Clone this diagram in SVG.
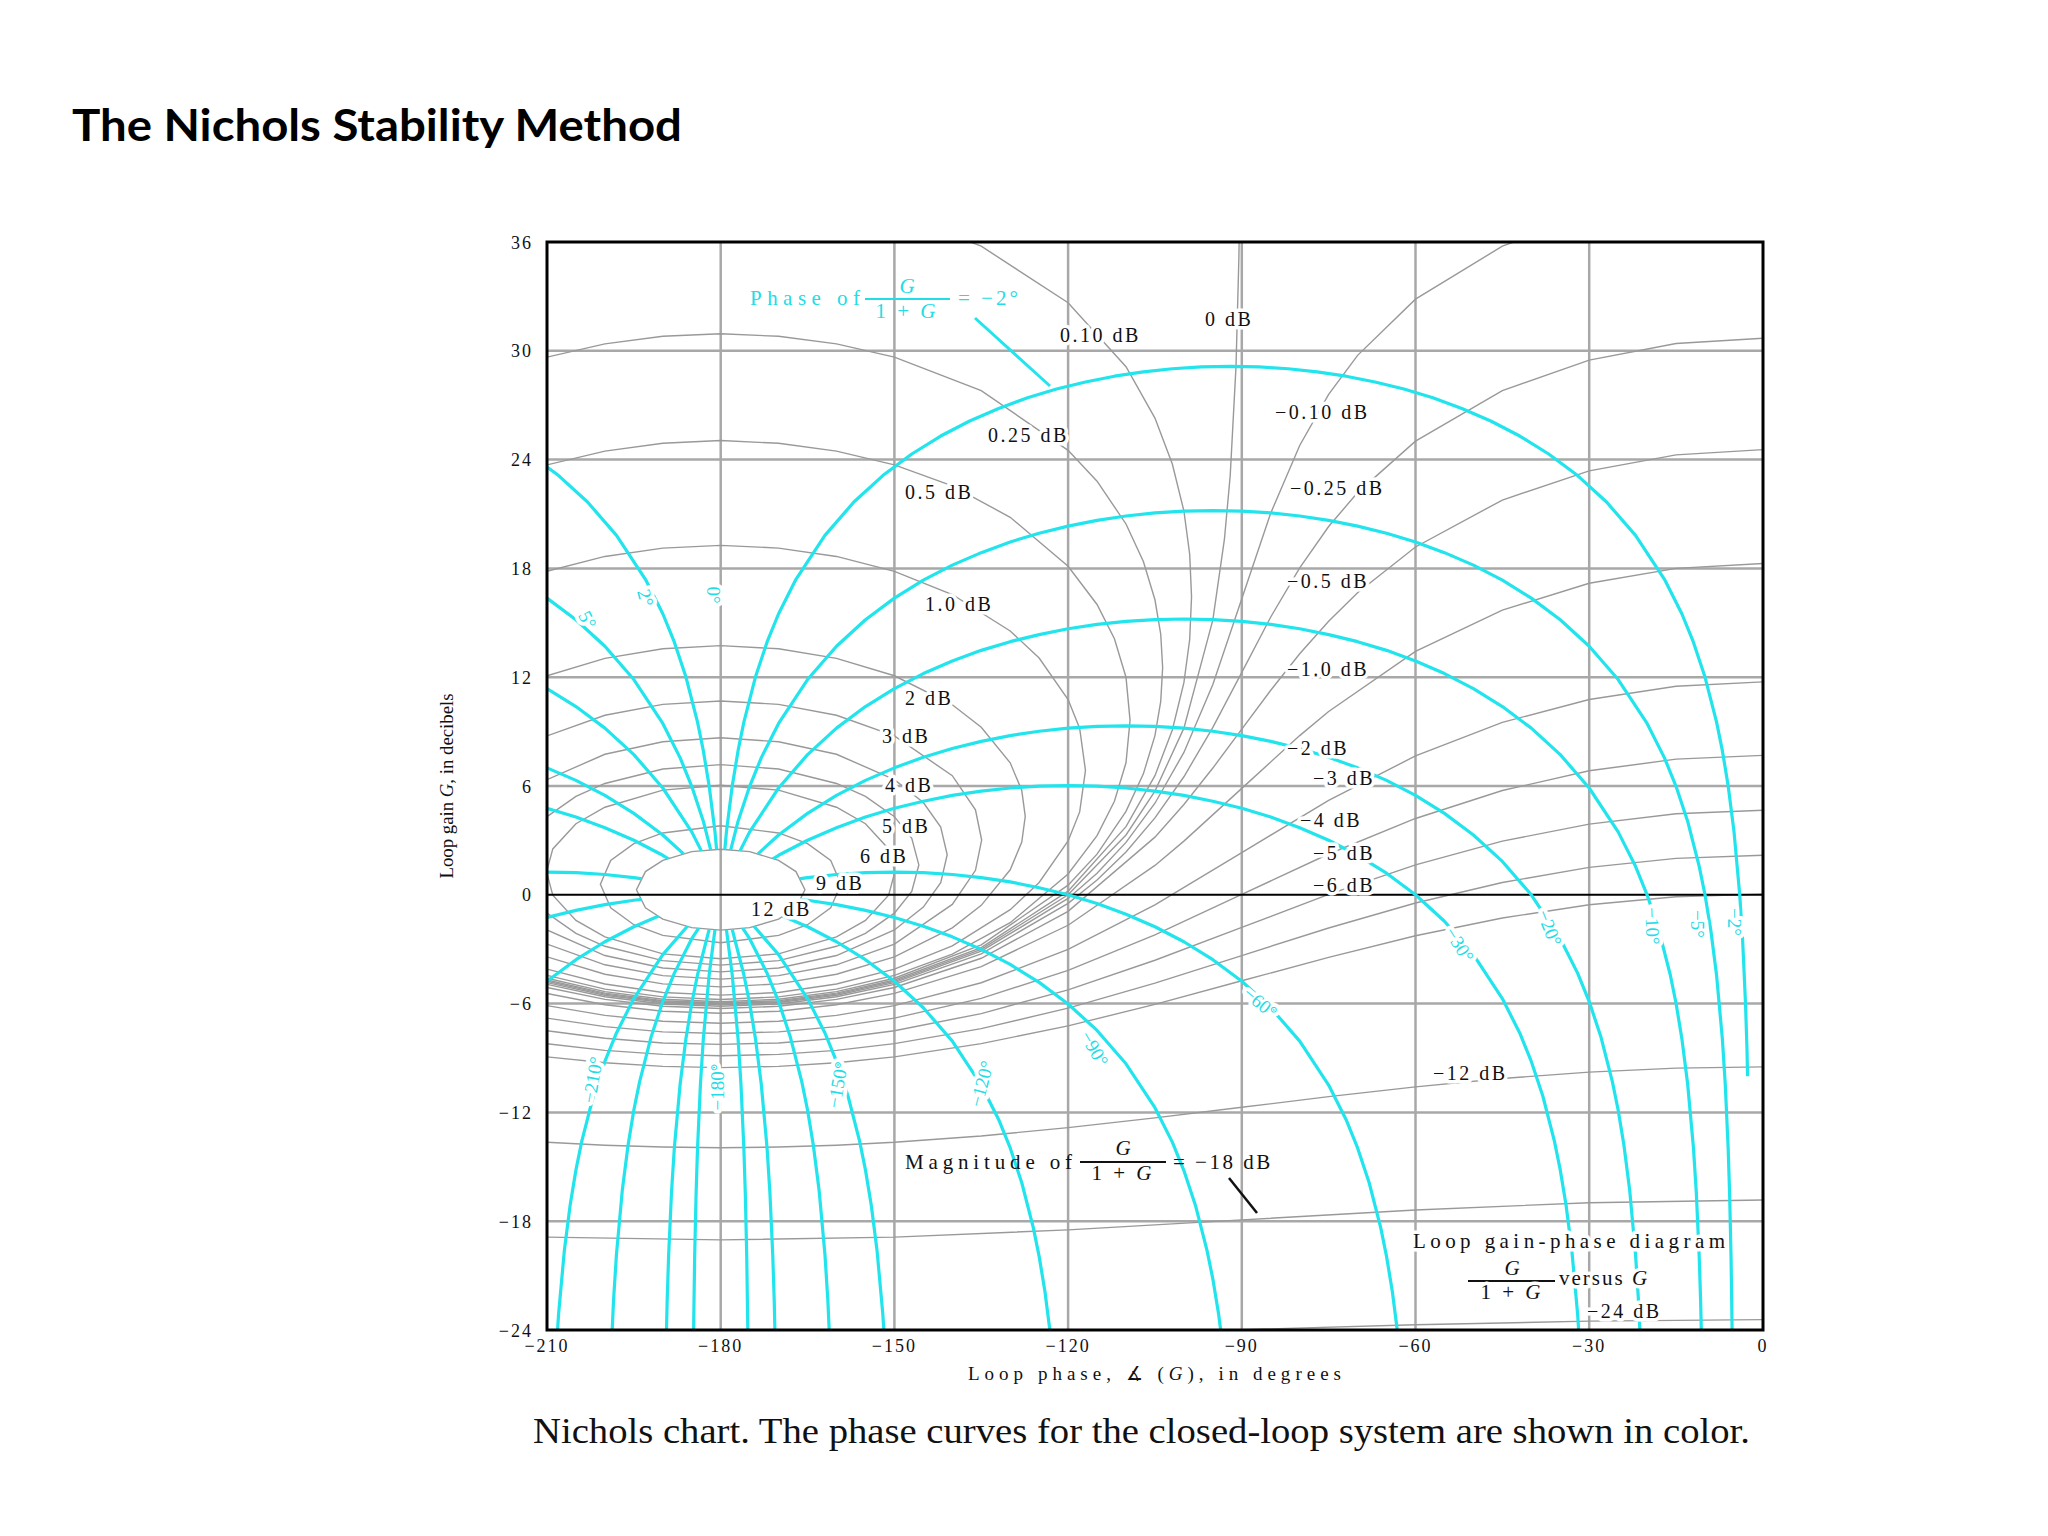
<svg xmlns="http://www.w3.org/2000/svg" xmlns:xlink="http://www.w3.org/1999/xlink" width="2048" height="1536" viewBox="0 0 2048 1536">
<style>
.m{fill:none;stroke:#999;stroke-width:1.4;vector-effect:non-scaling-stroke}
.cy{fill:none;stroke:#22e4ec;stroke-width:3.2;vector-effect:non-scaling-stroke;stroke-linejoin:round}
.grid{stroke:#a8a8a8;stroke-width:2.5}
.t{font-family:"Liberation Serif",serif;font-size:20px;letter-spacing:2.5px;fill:#111}
.tk{font-family:"Liberation Serif",serif;font-size:18px;letter-spacing:2px;fill:#111}
.ct{font-family:"Liberation Serif",serif;font-size:19px;fill:#22dce6;stroke:#fff;stroke-width:8;paint-order:stroke;stroke-linejoin:round}
.lw{stroke:#fff;stroke-width:7;paint-order:stroke;stroke-linejoin:round}
</style>
<defs>
<clipPath id="chart"><rect x="547" y="242" width="1216" height="1088"/></clipPath>
<clipPath id="c178" clipPathUnits="userSpaceOnUse"><rect x="0" y="-10" width="180" height="50"/></clipPath>
<clipPath id="c2" clipPathUnits="userSpaceOnUse"><rect x="-40" y="-30" width="40" height="70"/></clipPath>
<mask id="om" maskUnits="userSpaceOnUse" x="-40" y="-40" width="240" height="90">
<rect x="-40" y="-40" width="240" height="90" fill="#fff"/>
<path fill="#000" d="M0,2.51 L5,2.38 10,1.9 13,1.28 14.55,0.28 13,-0.72 10,-1.34 5,-1.81 0,-1.95 -5,-1.81 -10,-1.34 -13,-0.72 -14.55,0.28 -13,1.28 -10,1.9 -5,2.38 Z"/>
</mask>
<path id="arch" class="cy" d="M0.1,-55.2 L0.2,-49.1 0.3,-45.6 0.5,-41.18 0.75,-37.66 1,-35.16 1.5,-31.64 2,-29.14 3,-25.63 4,-23.13 5,-21.19 6,-19.62 8,-17.13 10,-15.21 12,-13.64 15,-11.74 20,-9.32 25,-7.48 30,-6.02 35,-4.83 40,-3.84 45,-3.01 50,-2.32 55,-1.73 60,-1.25 65,-0.86 70,-0.54 75,-0.3 80,-0.13 85,-0.03 90,0 95,-0.03 100,-0.13 105,-0.3 110,-0.54 115,-0.86 120,-1.25 125,-1.73 130,-2.32 135,-3.01 140,-3.84 145,-4.83 150,-6.02 155,-7.48 160,-9.32 165,-11.74 168,-13.64 170,-15.21 172,-17.13 174,-19.62 175,-21.19 176,-23.13 177,-25.63 178,-29.14 178.5,-31.64 179,-35.16 179.25,-37.66 179.5,-41.18 179.7,-45.6 179.8,-49.1 179.9,-55.2"/>
</defs>
<rect width="2048" height="1536" fill="#fff"/>
<text x="72" y="141" font-family="Lato,'Open Sans',sans-serif" font-weight="bold" font-size="44" textLength="610" lengthAdjust="spacingAndGlyphs" fill="#000">The Nichols Stability Method</text>

<g id="grid">
<g class="grid">
<line x1="720.7" y1="242" x2="720.7" y2="1330"/><line x1="894.4" y1="242" x2="894.4" y2="1330"/><line x1="1068.1" y1="242" x2="1068.1" y2="1330"/><line x1="1241.8" y1="242" x2="1241.8" y2="1330"/><line x1="1415.5" y1="242" x2="1415.5" y2="1330"/><line x1="1589.2" y1="242" x2="1589.2" y2="1330"/>
<line x1="547" y1="350.8" x2="1763" y2="350.8"/><line x1="547" y1="459.6" x2="1763" y2="459.6"/><line x1="547" y1="568.4" x2="1763" y2="568.4"/><line x1="547" y1="677.2" x2="1763" y2="677.2"/><line x1="547" y1="786" x2="1763" y2="786"/><line x1="547" y1="1003.6" x2="1763" y2="1003.6"/><line x1="547" y1="1112.4" x2="1763" y2="1112.4"/><line x1="547" y1="1221.2" x2="1763" y2="1221.2"/>
</g>
</g>

<g id="m-curves" clip-path="url(#chart)">
<g transform="translate(720.7 894.8) scale(5.79 -18.133)">
<path class="m" d="M-30,-4.77 L-20,-5.48 -10,-5.89 0,-6.02 10,-5.89 20,-5.48 30,-4.77 45,-3.01 60,0 70,3.3 75,5.72 80,9.19 85,15.16 87,19.61 88,23.12 89,29.14 89.5,35.16 89.7,39.6"/>
<path class="m" d="M0,38.8 L20,38.3 30,37.6 45,35.77 60,32.65 70,29.12 75,26.29 78,23.76 80,21.17 81,18.78 81.32,16.43 81,14.08 80,11.7 78,9.09 75,6.57 70,3.76 60,0.2 45,-2.91 30,-4.7 20,-5.42 10,-5.84 0,-5.97 -10,-5.84 -20,-5.42 -30,-4.7 -45,-2.91"/>
<path class="m" d="M-45,27.8 L-30,29.65 -20,30.38 -10,30.8 0,30.94 10,30.8 20,30.38 30,29.65 45,27.8 60,24.51 65,22.81 70,20.45 73,18.38 75,16.27 76,14.37 76.33,12.53 76,10.67 75,8.78 73,6.67 70,4.6 65,2.24 60,0.53 45,-2.76 30,-4.6 20,-5.34 10,-5.76 0,-5.9 -10,-5.76 -20,-5.34 -30,-4.6 -45,-2.76"/>
<path class="m" d="M-40,22.55 L-30,23.71 -20,24.47 -10,24.9 0,25.05 10,24.9 20,24.47 30,23.71 40,22.55 50,20.82 60,18.12 65,16.01 68,14.12 70,12 70.7,9.62 70,7.28 68,5.16 65,3.26 60,1.15 50,-1.54 40,-3.27 30,-4.44 20,-5.2 10,-5.63 0,-5.77 -10,-5.63 -20,-5.2 -30,-4.44 -40,-3.27"/>
<path class="m" d="M-40,16.56 L-30,17.84 -20,18.66 -10,19.12 0,19.27 10,19.12 20,18.66 30,17.84 40,16.56 50,14.55 55,13.06 60,10.77 62,9.17 63,6.86 62,4.57 60,2.97 55,0.68 50,-0.82 40,-2.82 30,-4.1 20,-4.92 10,-5.39 0,-5.53 -10,-5.39 -20,-4.92 -30,-4.1 -40,-2.82"/>
<path class="m" d="M0,13.74 L10,13.57 20,13.04 30,12.08 40,10.48 45,9.24 50,7.28 52,5.75 52.6,4.33 52,2.91 50,1.38 45,-0.58 40,-1.82 30,-3.42 20,-4.38 10,-4.91 0,-5.08 -10,-4.91 -20,-4.38 -30,-3.42 -40,-1.82 -45,-0.58 -50,1.38 -52,2.91 -52.6,4.33 -52,5.75 -50,7.28 -45,9.24 -40,10.48 -30,12.08 -20,13.04 -10,13.57 Z"/>
<path class="m" d="M0,10.69 L10,10.5 20,9.9 30,8.76 40,6.57 44,4.69 45.07,3.02 44,1.35 40,-0.53 30,-2.72 20,-3.86 10,-4.46 0,-4.65 -10,-4.46 -20,-3.86 -30,-2.72 -40,-0.53 -44,1.35 -45.07,3.02 -44,4.69 -40,6.57 -30,8.76 -20,9.9 -10,10.5 Z"/>
<path class="m" d="M0,8.66 L10,8.44 20,7.75 30,6.35 35,5.09 38,3.74 39.12,2.21 38,0.67 35,-0.68 30,-1.94 20,-3.35 10,-4.04 0,-4.25 -10,-4.04 -20,-3.35 -30,-1.94 -35,-0.68 -38,0.67 -39.12,2.21 -38,3.74 -35,5.09 -30,6.35 -20,7.75 -10,8.44 Z"/>
<path class="m" d="M0,7.18 L10,6.94 20,6.14 25,5.43 30,4.31 33,3.11 34.22,1.65 33,0.19 30,-1.01 25,-2.13 20,-2.84 10,-3.63 0,-3.88 -10,-3.63 -20,-2.84 -25,-2.13 -30,-1.01 -33,0.19 -34.22,1.65 -33,3.11 -30,4.31 -25,5.43 -20,6.14 -10,6.94 Z"/>
<path class="m" d="M0,6.04 L10,5.77 20,4.83 25,3.92 29,2.53 30.08,1.26 29,-0.02 25,-1.41 20,-2.32 10,-3.26 0,-3.53 -10,-3.26 -20,-2.32 -25,-1.41 -29,-0.02 -30.08,1.26 -29,2.53 -25,3.92 -20,4.83 -10,5.77 Z"/>
<path class="m" d="M0,3.81 L10,3.41 15,2.82 19,1.89 20.78,0.58 19,-0.72 15,-1.65 10,-2.24 0,-2.64 -10,-2.24 -15,-1.65 -19,-0.72 -20.78,0.58 -19,1.89 -15,2.82 -10,3.41 Z"/>
<path class="m" d="M0,2.51 L5,2.38 10,1.9 13,1.28 14.55,0.28 13,-0.72 10,-1.34 5,-1.81 0,-1.95 -5,-1.81 -10,-1.34 -13,-0.72 -14.55,0.28 -13,1.28 -10,1.9 -5,2.38 Z"/>
<path class="m" d="M-30,-4.84 L-20,-5.54 -10,-5.94 0,-6.07 10,-5.94 20,-5.54 30,-4.84 45,-3.11 60,-0.2 65,1.19 70,2.89 75,5.05 80,7.85 85,11.6 90,16.33 95,21.05 100,24.78 105,27.6 110,29.75 120,32.85 135,35.77 150,37.5"/>
<path class="m" d="M-30,-4.94 L-20,-5.62 -10,-6.02 0,-6.15 10,-6.02 20,-5.62 30,-4.94 45,-3.26 60,-0.47 65,0.82 70,2.36 75,4.24 80,6.51 85,9.23 90,12.27 95,15.32 100,18.03 105,20.31 110,22.18 120,25.02 135,27.8 150,29.49 165,30.4 180,30.69"/>
<path class="m" d="M-30,-5.11 L-20,-5.77 -10,-6.15 0,-6.27 10,-6.15 20,-5.77 30,-5.11 45,-3.5 60,-0.91 75,3.18 80,4.98 85,6.99 90,9.14 95,11.28 100,13.29 105,15.09 110,16.66 120,19.18 135,21.77 150,23.38 165,24.26 180,24.55"/>
<path class="m" d="M-30,-5.44 L-20,-6.06 -10,-6.42 0,-6.53 10,-6.42 20,-6.06 30,-5.44 45,-3.96 60,-1.68 75,1.62 80,2.96 90,5.87 100,8.78 105,10.11 120,13.42 135,15.7 150,17.18 165,18 180,18.27"/>
<path class="m" d="M-30,-6.11 L-20,-6.65 -10,-6.97 0,-7.08 10,-6.97 20,-6.65 30,-6.11 45,-4.85 60,-3.01 75,-0.56 90,2.33 105,5.21 120,7.66 135,9.51 150,10.77 165,11.5 180,11.74"/>
<path class="m" d="M-30,-6.8 L-20,-7.27 -10,-7.56 0,-7.65 10,-7.56 20,-7.27 30,-6.8 45,-5.71 60,-4.17 75,-2.21 90,0.02 105,2.25 120,4.21 135,5.75 150,6.84 165,7.48 180,7.69"/>
<path class="m" d="M-30,-7.5 L-20,-7.91 -10,-8.17 0,-8.25 10,-8.17 20,-7.91 30,-7.5 45,-6.55 60,-5.24 75,-3.61 90,-1.8 105,0.02 120,1.65 135,2.96 150,3.9 165,4.47 180,4.66"/>
<path class="m" d="M-30,-8.21 L-20,-8.58 -10,-8.8 0,-8.88 10,-8.8 20,-8.58 30,-8.21 45,-7.38 60,-6.25 75,-4.87 90,-3.35 105,-1.83 120,-0.45 135,0.68 150,1.51 165,2.01 180,2.18"/>
<path class="m" d="M-30,-8.94 L-20,-9.26 -10,-9.46 0,-9.53 10,-9.46 20,-9.26 30,-8.94 45,-8.21 60,-7.23 75,-6.04 90,-4.74 105,-3.45 120,-2.26 135,-1.28 150,-0.55 165,-0.11 180,0.04"/>
<path class="m" d="M-30,-13.65 L-20,-13.81 -10,-13.91 0,-13.95 10,-13.91 20,-13.81 30,-13.65 45,-13.3 60,-12.84 75,-12.3 90,-11.72 105,-11.13 120,-10.59 135,-10.13 150,-9.78 165,-9.56 180,-9.49"/>
<path class="m" d="M-30,-18.88 L0,-19.03 30,-18.88 60,-18.48 90,-17.93 120,-17.38 150,-16.98 180,-16.83"/>
<path class="m" d="M-30,-24.46 L0,-24.53 30,-24.46 60,-24.26 90,-23.98 120,-23.71 150,-23.51 180,-23.43"/>
</g>
</g>

<line id="zero-line" x1="547" y1="894.8" x2="1763" y2="894.8" stroke="#000" stroke-width="2"/>

<g id="n-curves" clip-path="url(#chart)">
<g transform="translate(720.7 894.8) scale(5.79 -18.133)">
<g mask="url(#om)">
<g clip-path="url(#c2)"><use xlink:href="#arch" transform="translate(-178 29.14)"/></g>
<use xlink:href="#arch" transform="translate(-175 21.19)"/>
<use xlink:href="#arch" transform="translate(-170 15.21)"/>
<use xlink:href="#arch" transform="translate(-160 9.32)"/>
<use xlink:href="#arch" transform="translate(-150 6.02)"/>
<use xlink:href="#arch" transform="translate(-120 1.25)"/>
<use xlink:href="#arch" transform="translate(-90 0)"/>
<use xlink:href="#arch" transform="translate(-60 1.25)"/>
<use xlink:href="#arch" transform="translate(-30 6.02)"/>
<use xlink:href="#arch" transform="translate(-20 9.32)"/>
<use xlink:href="#arch" transform="translate(-10 15.21)"/>
<use xlink:href="#arch" transform="translate(-5 21.19)"/>
<g clip-path="url(#c178)"><use xlink:href="#arch" transform="translate(-2 29.14)"/></g>
</g>
</g>
</g>

<rect id="frame" x="547" y="242" width="1216" height="1088" fill="none" stroke="#000" stroke-width="3"/>

<g id="m-labels" class="t">
<text class="lw" x="1205" y="326">0 dB</text>
<text class="lw" x="1060" y="342">0.10 dB</text>
<text class="lw" x="988" y="442">0.25 dB</text>
<text class="lw" x="905" y="499">0.5 dB</text>
<text class="lw" x="925" y="611">1.0 dB</text>
<text class="lw" x="905" y="705">2 dB</text>
<text class="lw" x="882" y="743">3 dB</text>
<text class="lw" x="885" y="792">4 dB</text>
<text class="lw" x="882" y="833">5 dB</text>
<text class="lw" x="860" y="863">6 dB</text>
<text class="lw" x="816" y="890">9 dB</text>
<text class="lw" x="751" y="916">12 dB</text>
<text class="lw" x="1275" y="419">−0.10 dB</text>
<text class="lw" x="1290" y="495">−0.25 dB</text>
<text class="lw" x="1287" y="588">−0.5 dB</text>
<text class="lw" x="1287" y="676">−1.0 dB</text>
<text class="lw" x="1287" y="755">−2 dB</text>
<text class="lw" x="1313" y="785">−3 dB</text>
<text class="lw" x="1300" y="827">−4 dB</text>
<text class="lw" x="1313" y="860">−5 dB</text>
<text class="lw" x="1313" y="892">−6 dB</text>
<text class="lw" x="1433" y="1080">−12 dB</text>
<text class="lw" x="1587" y="1318">−24 dB</text>
</g>

<g id="n-labels" class="ct" text-anchor="middle">
<text transform="translate(587 620) rotate(62)" dy="6">5°</text>
<text transform="translate(645 598) rotate(75)" dy="6">2°</text>
<text transform="translate(713 595) rotate(90)" dy="6">0°</text>
<text transform="translate(593 1080) rotate(-80)" dy="6">−210°</text>
<text transform="translate(718 1087) rotate(-90)" dy="6">−180°</text>
<text transform="translate(838 1085) rotate(-80)" dy="6">−150°</text>
<text transform="translate(982 1084) rotate(-75)" dy="6">−120°</text>
<text transform="translate(1094 1049) rotate(60)" dy="6">−90°</text>
<text transform="translate(1260 1003) rotate(40)" dy="6">−60°</text>
<text transform="translate(1459 945) rotate(58)" dy="6">−30°</text>
<text transform="translate(1549 928) rotate(68)" dy="6">−20°</text>
<text transform="translate(1652 926) rotate(88)" dy="6">−10°</text>
<text transform="translate(1697 924) rotate(90)" dy="6">−5°</text>
<text transform="translate(1734 922) rotate(90)" dy="6">−2°</text>
</g>

<g id="phase-note" font-family="Liberation Serif,serif" font-size="21" fill="#22dce6">
<text x="750" y="305" textLength="110" lengthAdjust="spacing">Phase of</text>
<text x="907" y="293" text-anchor="middle" font-style="italic">G</text>
<line x1="865" y1="299" x2="950" y2="299" stroke="#22dce6" stroke-width="2"/>
<text x="907" y="318" text-anchor="middle" letter-spacing="3">1 + <tspan font-style="italic">G</tspan></text>
<text x="958" y="305" letter-spacing="3">= −2°</text>
<line x1="975" y1="318" x2="1050" y2="386" stroke="#22e4ec" stroke-width="3"/>
</g>

<g id="mag-note" font-family="Liberation Serif,serif" font-size="21" fill="#111">
<text x="905" y="1169" textLength="167" lengthAdjust="spacing">Magnitude of</text>
<text x="1123" y="1155" text-anchor="middle" font-style="italic">G</text>
<line x1="1080" y1="1162" x2="1166" y2="1162" stroke="#111" stroke-width="2"/>
<text x="1123" y="1180" text-anchor="middle" letter-spacing="3">1 + <tspan font-style="italic">G</tspan></text>
<text x="1173" y="1169" letter-spacing="2.5">= −18 dB</text>
<line x1="1229" y1="1178" x2="1257" y2="1213" stroke="#111" stroke-width="2.5"/>
</g>

<g id="legend" font-family="Liberation Serif,serif" font-size="21" fill="#111">
<text class="lw" x="1413" y="1248" textLength="312" lengthAdjust="spacing">Loop gain-phase diagram</text>
<text class="lw" x="1512" y="1275" text-anchor="middle" font-style="italic">G</text>
<line x1="1468" y1="1281" x2="1555" y2="1281" stroke="#111" stroke-width="2"/>
<text class="lw" x="1512" y="1299" text-anchor="middle" letter-spacing="3">1 + <tspan font-style="italic">G</tspan></text>
<text class="lw" x="1559" y="1285" letter-spacing="2">versus <tspan font-style="italic">G</tspan></text>
</g>

<g id="y-axis" class="tk" text-anchor="end">
<text x="533" y="249">36</text><text x="533" y="357">30</text><text x="533" y="466">24</text><text x="533" y="575">18</text><text x="533" y="684">12</text><text x="533" y="793">6</text><text x="533" y="901">0</text><text x="533" y="1010">−6</text><text x="533" y="1119">−12</text><text x="533" y="1228">−18</text><text x="533" y="1337">−24</text>
</g>
<text font-family="Liberation Serif,serif" font-size="19" fill="#111" text-anchor="middle" transform="translate(453 786) rotate(-90)" textLength="185" lengthAdjust="spacingAndGlyphs">Loop gain <tspan font-style="italic">G</tspan>, in decibels</text>

<g id="x-axis" class="tk" text-anchor="middle">
<text x="547" y="1352">−210</text><text x="720.7" y="1352">−180</text><text x="894.4" y="1352">−150</text><text x="1068.1" y="1352">−120</text><text x="1241.8" y="1352">−90</text><text x="1415.5" y="1352">−60</text><text x="1589.2" y="1352">−30</text><text x="1763" y="1352">0</text>
</g>
<text x="968" y="1380" font-family="Liberation Serif,serif" font-size="19" fill="#111" textLength="373" lengthAdjust="spacing">Loop phase, ∡ (<tspan font-style="italic">G</tspan>), in degrees</text>

<text x="533" y="1443" font-family="Liberation Serif,serif" font-size="36" fill="#111" textLength="1217" lengthAdjust="spacingAndGlyphs">Nichols chart. The phase curves for the closed-loop system are shown in color.</text>
</svg>
